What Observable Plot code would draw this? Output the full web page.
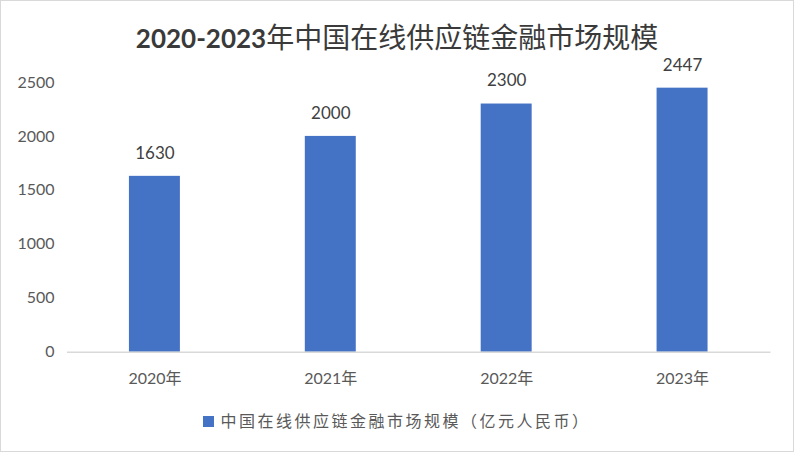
<!DOCTYPE html>
<html>
<head>
<meta charset="utf-8">
<script src="https://cdn.jsdelivr.net/npm/d3@7"></script>
<script src="https://cdn.jsdelivr.net/npm/@observablehq/plot@0.6"></script>
<style>
  html, body { margin: 0; padding: 0; background: #fff; }
  #wrap { position: relative; width: 794px; height: 452px; box-sizing: border-box; border: 1.5px solid #d9d9d9; overflow: hidden; font-family: Lato, "Noto Sans CJK SC", sans-serif; }
  #title { position: absolute; left: 0; width: 100%; top: 16px; text-align: center; color: #3a3a3a; line-height: 40px; font-family: Lato, "Noto Sans CJK SC", sans-serif; white-space: nowrap; }
  #title .num { font-size: 26px; font-weight: bold; }
  #title .cjk { font-size: 28px; font-weight: 400; }
  #chart { position: absolute; left: -1.5px; top: -1.5px; }
  #legend { position: absolute; left: 0; width: 100%; top: 406px; text-align: center; font-size: 16px; letter-spacing: 2.5px; color: #595959; line-height: 28px; }
  #legend .sw { display: inline-block; width: 11px; height: 11px; background: #4472C4; margin-right: 6px; vertical-align: 0px; }
</style>
</head>
<body>
<div id="wrap">
  <div id="chart"></div>
  <div id="title"></div>
  <div id="legend"></div>
</div>
<script>
const years = ["2020年", "2021年", "2022年", "2023年"];
const values = [1630, 2000, 2300, 2447];
const yTicks = [0, 500, 1000, 1500, 2000, 2500];
const titleRange = "2020-2023";
const titleRest = "年中国在线供应链金融市场规模";
const seriesName = "中国在线供应链金融市场规模（亿元人民币）";

const data = years.map((y, i) => ({year: y, value: values[i]}));

const t = document.getElementById("title");
const s1 = document.createElement("span"); s1.className = "num"; s1.textContent = titleRange;
const s2 = document.createElement("span"); s2.className = "cjk"; s2.textContent = titleRest;
t.appendChild(s1); t.appendChild(s2);

const lg = document.getElementById("legend");
const sw = document.createElement("span"); sw.className = "sw";
lg.appendChild(sw);
lg.appendChild(document.createTextNode(seriesName));

const chart = Plot.plot({
  width: 794,
  height: 452,
  marginTop: 82,
  marginBottom: 100,
  marginLeft: 67,
  marginRight: 23,
  style: {fontFamily: 'Lato, "Noto Sans CJK SC", sans-serif', fontSize: "16px", color: "#595959", background: "transparent"},
  x: {domain: years, paddingInner: 0.71, paddingOuter: 0.355, label: null},
  y: {domain: [0, 2500], label: null},
  marks: [
    Plot.axisY({ticks: yTicks, tickFormat: d => String(d), tickSize: 0, tickPadding: 13, fontSize: 16, fill: "#595959", label: null}),
    Plot.axisX({tickSize: 0, tickPadding: 20, fontSize: 16, fill: "#595959", label: null}),
    Plot.barY(data, {x: "year", y: "value", fill: "#4472C4"}),
    Plot.ruleY([0], {stroke: "#d9d9d9", strokeWidth: 1.5}),
    Plot.text(data, {x: "year", y: "value", text: d => String(d.value), dy: -23, fontSize: 17, fill: "#404040"})
  ]
});
document.getElementById("chart").appendChild(chart);
</script>
</body>
</html>
